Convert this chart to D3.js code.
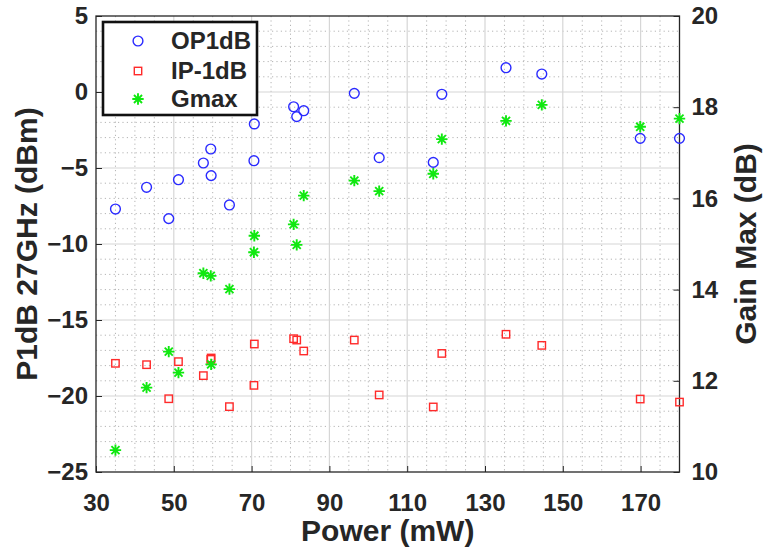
<!DOCTYPE html>
<html>
<head>
<meta charset="utf-8">
<script src="https://cdn.jsdelivr.net/npm/d3@7"></script>
<style>
  body { margin: 0; background: #fff; }
  svg text { font-family: Arial, "Liberation Sans", Helvetica, sans-serif; font-weight: bold; fill: #262626; }
</style>
</head>
<body>
<svg id="chart" width="765" height="552"></svg>
<script>
// Measured devices: DC power and 27 GHz compression / gain figures
const power  = [35, 43, 48.7, 51.2, 57.6, 59.5, 59.6, 64.3, 70.7, 70.6, 80.8, 81.6, 83.4, 96.4, 102.8, 116.7, 118.9, 135.4, 144.6, 169.9, 180];
const op1dB  = [-7.7, -6.27, -8.33, -5.77, -4.67, -3.75, -5.5, -7.43, -2.1, -4.52, -0.97, -1.62, -1.23, -0.09, -4.32, -4.63, -0.15, 1.6, 1.18, -3.05, -3.05];
const ip1dB  = [-17.85, -17.94, -20.18, -17.74, -18.66, -17.59, -17.5, -20.7, -16.58, -19.3, -16.23, -16.32, -17.04, -16.32, -19.93, -20.72, -17.2, -15.94, -16.67, -20.2, -20.4];
const gmax   = [10.48, 11.85, 12.64, 12.18, 14.36, 14.3, 12.36, 14.01, 15.18, 14.82, 15.43, 14.98, 16.06, 16.39, 16.16, 16.54, 17.3, 17.7, 18.05, 17.57, 17.75];

const xTicks      = [30, 50, 70, 90, 110, 130, 150, 170];
const yLeftTicks  = [-25, -20, -15, -10, -5, 0, 5];
const yRightTicks = [10, 12, 14, 16, 18, 20];
const legendLabels = ["OP1dB", "IP-1dB", "Gmax"];

const svg = d3.select("#chart");
const plot = { left: 96, right: 679.5, top: 16, bottom: 472 };

const x  = d3.scaleLinear().domain([30, 180]).range([plot.left, plot.right]);
const yL = d3.scaleLinear().domain([-25, 5]).range([plot.bottom, plot.top]);
const yR = d3.scaleLinear().domain([10, 20]).range([plot.bottom, plot.top]);

const colors = { op: "#2a2aff", ip: "#ff2a2a", g: "#10e810" };

// ---- grid: dotted minor lines, solid major lines
const grid = svg.append("g");
const xMinor = d3.range(30, 181, 5).filter(v => !xTicks.includes(v) && v < 180);
const yMinor = d3.range(-25, 6, 1).filter(v => v % 5 !== 0);

grid.selectAll(".xm").data(xMinor).join("line")
  .attr("x1", d => x(d)).attr("x2", d => x(d))
  .attr("y1", plot.top).attr("y2", plot.bottom)
  .attr("stroke", "#b4b4b4").attr("stroke-width", 1).attr("stroke-dasharray", "1.2,3.2");
grid.selectAll(".ym").data(yMinor).join("line")
  .attr("x1", plot.left).attr("x2", plot.right)
  .attr("y1", d => yL(d)).attr("y2", d => yL(d))
  .attr("stroke", "#b4b4b4").attr("stroke-width", 1).attr("stroke-dasharray", "1.2,3.2");
grid.selectAll(".xM").data(xTicks.filter(v => v > 30)).join("line")
  .attr("x1", d => x(d)).attr("x2", d => x(d))
  .attr("y1", plot.top).attr("y2", plot.bottom)
  .attr("stroke", "#d6d6d6").attr("stroke-width", 1.2);
grid.selectAll(".yM").data(yLeftTicks.filter(v => v > -25 && v < 5)).join("line")
  .attr("x1", plot.left).attr("x2", plot.right)
  .attr("y1", d => yL(d)).attr("y2", d => yL(d))
  .attr("stroke", "#d6d6d6").attr("stroke-width", 1.2);

// ---- axes (ticks point inward)
function styleAxis(g, size) {
  g.select(".domain").remove();
  g.selectAll(".tick line").attr("stroke", "#262626").attr("stroke-width", 1);
  g.selectAll(".tick text").attr("font-size", size).attr("font-family", null).attr("fill", "#262626");
  g.attr("font-family", null).attr("font-size", null);
}

svg.append("g").attr("transform", `translate(0,${plot.bottom})`)
  .call(d3.axisBottom(x).tickValues(xTicks).tickSize(-6).tickSizeOuter(0).tickPadding(22).tickFormat(d3.format("d")))
  .call(g => styleAxis(g, 24));

svg.append("g").attr("transform", `translate(${plot.left},0)`)
  .call(d3.axisLeft(yL).tickValues(yLeftTicks).tickSize(-6).tickSizeOuter(0).tickPadding(8).tickFormat(d3.format("d")))
  .call(g => styleAxis(g, 24));

svg.append("g").attr("transform", `translate(${plot.right},0)`)
  .call(d3.axisRight(yR).tickValues(yRightTicks).tickSize(-6).tickSizeOuter(0).tickPadding(12).tickFormat(d3.format("d")))
  .call(g => styleAxis(g, 24));

// box
svg.append("rect")
  .attr("x", plot.left).attr("y", plot.top)
  .attr("width", plot.right - plot.left).attr("height", plot.bottom - plot.top)
  .attr("fill", "none").attr("stroke", "#262626").attr("stroke-width", 1.3);

// ---- axis titles
svg.append("text")
  .attr("transform", `translate(${(plot.left + plot.right) / 2},541)`)
  .attr("text-anchor", "middle").attr("font-size", 30)
  .text("Power (mW)");
svg.append("text")
  .attr("transform", `translate(37,${(plot.top + plot.bottom) / 2}) rotate(-90)`)
  .attr("text-anchor", "middle").attr("font-size", 30)
  .text("P1dB 27GHz (dBm)");
svg.append("text")
  .attr("transform", `translate(756,${(plot.top + plot.bottom) / 2}) rotate(-90)`)
  .attr("text-anchor", "middle").attr("font-size", 30)
  .text("Gain Max (dB)");

// ---- markers
const starType = {
  draw(ctx, size) {
    const r = Math.sqrt(size) / 2, d = r * Math.SQRT1_2;
    ctx.moveTo(-r, 0); ctx.lineTo(r, 0);
    ctx.moveTo(0, -r); ctx.lineTo(0, r);
    ctx.moveTo(-d, -d); ctx.lineTo(d, d);
    ctx.moveTo(-d, d); ctx.lineTo(d, -d);
  }
};
const star = d3.symbol().type(starType).size(130);

const idx = d3.range(power.length);
const marks = svg.append("g");

marks.selectAll(".op").data(idx).join("circle")
  .attr("cx", i => x(power[i])).attr("cy", i => yL(op1dB[i])).attr("r", 4.9)
  .attr("fill", "none").attr("stroke", colors.op).attr("stroke-width", 1.4);

marks.selectAll(".ip").data(idx).join("rect")
  .attr("x", i => x(power[i]) - 3.7).attr("y", i => yL(ip1dB[i]) - 3.7)
  .attr("width", 7.4).attr("height", 7.4)
  .attr("fill", "none").attr("stroke", colors.ip).attr("stroke-width", 1.4);

marks.selectAll(".g").data(idx).join("path")
  .attr("transform", i => `translate(${x(power[i])},${yR(gmax[i])})`)
  .attr("d", star).attr("fill", "none").attr("stroke", colors.g).attr("stroke-width", 1.9);

// ---- legend
const leg = svg.append("g");
leg.append("rect").attr("x", 103).attr("y", 22).attr("width", 154).attr("height", 93)
  .attr("fill", "#fff").attr("stroke", "#111").attr("stroke-width", 2.6);
const rowY = [41, 71, 99];
leg.append("circle").attr("cx", 138).attr("cy", rowY[0]).attr("r", 4.9)
  .attr("fill", "none").attr("stroke", colors.op).attr("stroke-width", 1.4);
leg.append("rect").attr("x", 138 - 3.7).attr("y", rowY[1] - 3.7).attr("width", 7.4).attr("height", 7.4)
  .attr("fill", "none").attr("stroke", colors.ip).attr("stroke-width", 1.4);
leg.append("path").attr("transform", `translate(138,${rowY[2]})`).attr("d", star)
  .attr("fill", "none").attr("stroke", colors.g).attr("stroke-width", 1.9);
leg.selectAll(".lt").data(legendLabels).join("text")
  .attr("x", 171).attr("y", (d, i) => rowY[i] + 8)
  .attr("font-size", 24).text(d => d);
</script>
</body>
</html>
